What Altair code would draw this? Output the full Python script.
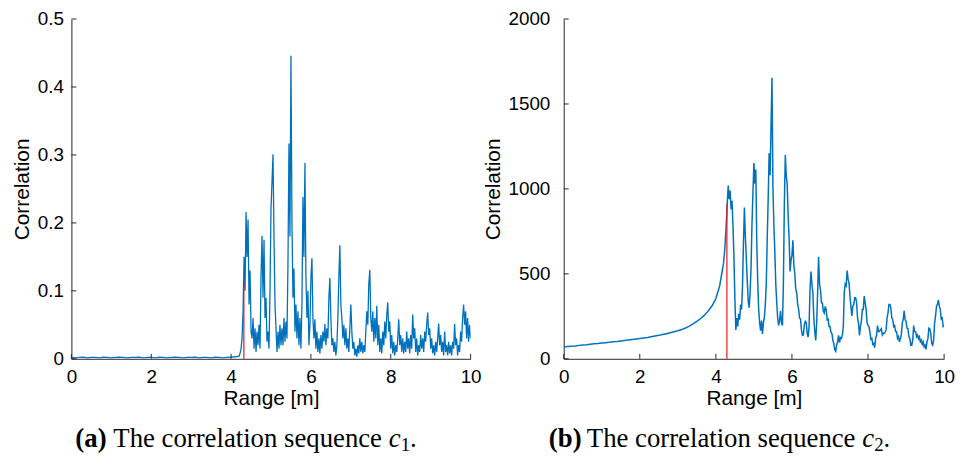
import altair as alt
import pandas as pd

# ---------------- data ----------------
x_ticks = [0, 2, 4, 6, 8, 10]
left_y_ticks = [0, 0.1, 0.2, 0.3, 0.4, 0.5]
right_y_ticks = [0, 500, 1000, 1500, 2000]

# flat part, 0 .. 4.1 m every 0.1 m
flat_step = 0.1
left_flat = [0.002, 0.0015, 0.002, 0.0025, 0.0015, 0.002, 0.002, 0.0015, 0.0025, 0.002,
             0.0015, 0.002, 0.0025, 0.002, 0.0015, 0.002, 0.002, 0.0025, 0.0015, 0.002,
             0.002, 0.0015, 0.0025, 0.002, 0.0015, 0.002, 0.0025, 0.002, 0.0015, 0.002,
             0.002, 0.0025, 0.0015, 0.002, 0.002, 0.0015, 0.0025, 0.002, 0.0015, 0.002,
             0.0025, 0.003]
right_flat = [70, 72, 74, 76, 79, 81, 83, 86, 88, 90,
              93, 95, 97, 100, 102, 105, 108, 111, 114, 117,
              120, 123, 126, 130, 134, 138, 143, 148, 153, 159,
              165, 172, 181, 192, 205, 220, 237, 257, 282, 312,
              355, 430]

# dense part, 4.2 .. 10 m every 0.025 m (rows of 0.25 m)
dense_start = 4.2
dense_step = 0.025
left_dense = [
    0.004, 0.008, 0.015, 0.030, 0.070, 0.150, 0.100, 0.216, 0.150, 0.205,
    0.080, 0.130, 0.040, 0.030, 0.060, 0.015, 0.045, 0.010, 0.040, 0.020,
    0.050, 0.015, 0.120, 0.181, 0.090, 0.175, 0.060, 0.090, 0.025, 0.040,
    0.015, 0.100, 0.220, 0.260, 0.301, 0.180, 0.080, 0.045, 0.010, 0.040,
    0.015, 0.050, 0.020, 0.045, 0.020, 0.060, 0.025, 0.055, 0.030, 0.140,
    0.317, 0.180, 0.446, 0.200, 0.090, 0.133, 0.040, 0.080, 0.030, 0.070,
    0.020, 0.060, 0.015, 0.080, 0.238, 0.150, 0.288, 0.120, 0.060, 0.100,
    0.020, 0.050, 0.120, 0.148, 0.060, 0.030, 0.058, 0.015, 0.040, 0.010,
    0.030, 0.008, 0.035, 0.015, 0.040, 0.025, 0.051, 0.020, 0.045, 0.030,
    0.090, 0.119, 0.060, 0.020, 0.030, 0.010, 0.025, 0.005, 0.020, 0.060,
    0.120, 0.167, 0.080, 0.060, 0.030, 0.050, 0.020, 0.045, 0.015, 0.030,
    0.010, 0.045, 0.080, 0.040, 0.015, 0.025, 0.005, 0.015, 0.003, 0.020,
    0.008, 0.030, 0.010, 0.025, 0.008, 0.020, 0.010, 0.040, 0.070, 0.050,
    0.110, 0.131, 0.060, 0.040, 0.070, 0.025, 0.060, 0.030, 0.078, 0.020,
    0.050, 0.010, 0.030, 0.008, 0.040, 0.020, 0.055, 0.030, 0.065, 0.083,
    0.040, 0.055, 0.015, 0.035, 0.008, 0.025, 0.005, 0.020, 0.010, 0.030,
    0.058, 0.020, 0.035, 0.010, 0.030, 0.008, 0.025, 0.010, 0.040, 0.015,
    0.030, 0.008, 0.035, 0.015, 0.065, 0.030, 0.045, 0.010, 0.030, 0.005,
    0.020, 0.010, 0.035, 0.015, 0.030, 0.010, 0.040, 0.025, 0.050, 0.068,
    0.035, 0.045, 0.015, 0.030, 0.008, 0.020, 0.005, 0.025, 0.010, 0.030,
    0.052, 0.020, 0.035, 0.010, 0.025, 0.005, 0.040, 0.010, 0.020, 0.005,
    0.025, 0.008, 0.020, 0.005, 0.025, 0.015, 0.051, 0.020, 0.030, 0.005,
    0.020, 0.010, 0.040, 0.025, 0.060, 0.080, 0.050, 0.070, 0.030, 0.060,
    0.025, 0.050, 0.030,
]
right_dense = [
    560, 620, 700, 800, 920, 1020, 940, 990, 880, 930,
    780, 600, 350, 170, 240, 190, 265, 230, 320, 290,
    430, 680, 891, 720, 590, 460, 340, 301, 390, 540,
    800, 980, 1152, 1030, 1114, 690, 460, 290, 215, 165,
    225, 147, 210, 245, 321, 440, 710, 940, 1210, 1080,
    1365, 1654, 1010, 790, 630, 440, 331, 240, 196, 226,
    283, 210, 196, 440, 910, 1200, 1080, 1025, 840, 710,
    514, 579, 610, 698, 550, 500, 410, 389, 320, 292,
    240, 234, 170, 138, 140, 200, 220, 215, 150, 128,
    190, 410, 514, 440, 389, 240, 160, 108, 210, 390,
    601, 440, 405, 330, 328, 280, 270, 308, 290, 230,
    234, 190, 190, 156, 150, 110, 90, 55, 45, 80,
    100, 138, 95, 125, 120, 138, 190, 389, 440, 430,
    520, 470, 447, 370, 310, 253, 310, 320, 360, 360,
    330, 240, 210, 137, 190, 220, 290, 290, 369, 330,
    290, 210, 196, 190, 157, 115, 120, 85, 90, 65,
    120, 140, 196, 160, 160, 170, 177, 140, 150, 150,
    157, 170, 240, 270, 320, 320, 300, 240, 230, 190,
    196, 160, 160, 120, 130, 100, 118, 140, 210, 230,
    282, 230, 220, 180, 177, 130, 120, 80, 80, 110,
    196, 160, 160, 130, 140, 118, 130, 100, 110, 85,
    99, 70, 80, 55, 100, 120, 180, 176, 150, 90,
    80, 110, 210, 253, 310, 320, 346, 310, 290, 234,
    240, 190, 196,
]
assert len(left_dense) == 233, len(left_dense)
assert len(right_dense) == 233, len(right_dense)

# true-range markers (red)
left_marker = [4.32, 0.113]
right_marker = [4.29, 910]

caption_tags = ["(a)", "(b)"]
caption_body = "The correlation sequence"
caption_var = "c"
caption_subs = ["1", "2"]

x_title = "Range [m]"
y_title = "Correlation"

# ---------------- styling ----------------
BLUE = "#0072BD"
RED = "#E8141A"
AX = "#262626"
SANS = "Liberation Sans"
SERIF = "Liberation Serif"
W_L, W_R, H = 403, 384, 343


def frame(flat, dense):
    xs = [round(flat_step * i, 4) for i in range(len(flat))]
    xs += [round(dense_start + dense_step * i, 4) for i in range(len(dense))]
    return pd.DataFrame({"r": xs, "c": list(flat) + list(dense)})


def panel(flat, dense, ymax, yticks, yfmt, marker, tag, sub, width, cap_x0, sw, ylp):
    xsc = alt.Scale(domain=[0, 10], nice=False, zero=False)
    ysc = alt.Scale(domain=[0, ymax], nice=False)
    xax = alt.Axis(values=x_ticks, tickSize=0, grid=False, domainColor=AX,
                   labelFlush=False, labelFont=SANS, labelFontSize=19, labelColor="#000",
                   labelPadding=9, title=x_title, titleFont=SANS, titleFontSize=21,
                   titleFontWeight="normal", titleColor="#000", titlePadding=1)
    yax = alt.Axis(values=yticks, tickSize=0, grid=False, domainColor=AX,
                   labelFlush=False, labelFont=SANS, labelFontSize=19, labelColor="#000",
                   format=yfmt, labelPadding=ylp, title=y_title, titleFont=SANS,
                   titleFontSize=21, titleFontWeight="normal", titleColor="#000",
                   titlePadding=5)
    line = alt.Chart(frame(flat, dense)).mark_line(color=BLUE, strokeWidth=sw, clip=True).encode(
        x=alt.X("r:Q", scale=xsc, axis=xax),
        y=alt.Y("c:Q", scale=ysc, axis=yax),
    )
    mk = alt.Chart(pd.DataFrame({"r": [marker[0]], "c0": [0], "c": [marker[1]]})).mark_rule(
        color=RED, strokeWidth=1.2).encode(
        x=alt.X("r:Q", scale=xsc, axis=xax),
        y=alt.Y("c0:Q", scale=ysc, axis=yax),
        y2="c:Q",
    )
    xt = alt.Chart(pd.DataFrame({"r": x_ticks})).mark_rule(color=AX, strokeWidth=1).encode(
        x=alt.X("r:Q", scale=xsc, axis=xax), y=alt.value(H), y2=alt.value(H - 5))
    yt = alt.Chart(pd.DataFrame({"c": yticks})).mark_rule(color=AX, strokeWidth=1).encode(
        y=alt.Y("c:Q", scale=ysc, axis=yax), x=alt.value(0), x2=alt.value(5))

    fs = 27
    base_y = H + 89
    pieces = [
        (tag, cap_x0, fs, "bold", "normal", 0),
        (caption_body, cap_x0 + 38.3, fs, "normal", "normal", 0),
        (caption_var, cap_x0 + 316.4, fs, "normal", "italic", 0),
        (sub, cap_x0 + 328.4, 19, "normal", "normal", 4),
        (".", cap_x0 + 337.9, fs, "normal", "normal", 0),
    ]
    caps = []
    for txt, px, size, wt, st, dy in pieces:
        caps.append(
            alt.Chart(pd.DataFrame({"t": [txt]})).mark_text(
                font=SERIF, fontSize=size, fontWeight=wt, fontStyle=st,
                align="left", baseline="alphabetic", color="#000").encode(
                text="t:N", x=alt.value(px), y=alt.value(base_y + dy))
        )
    return alt.layer(line, mk, xt, yt, *caps).properties(width=width, height=H)


left = panel(left_flat, left_dense, 0.5, left_y_ticks, ".1~f", left_marker,
             caption_tags[0], caption_subs[0], W_L, 4, 1.3, 8)
right = panel(right_flat, right_dense, 2000, right_y_ticks, "d", right_marker,
              caption_tags[1], caption_subs[1], W_R, -15, 1.5, 14)

chart = alt.hconcat(left, right, spacing=0).configure_view(stroke=None).properties(
    padding={"left": 3, "top": 0, "right": 0, "bottom": 0})

chart.save("out.html", embed_options={"renderer": "svg", "actions": False})
